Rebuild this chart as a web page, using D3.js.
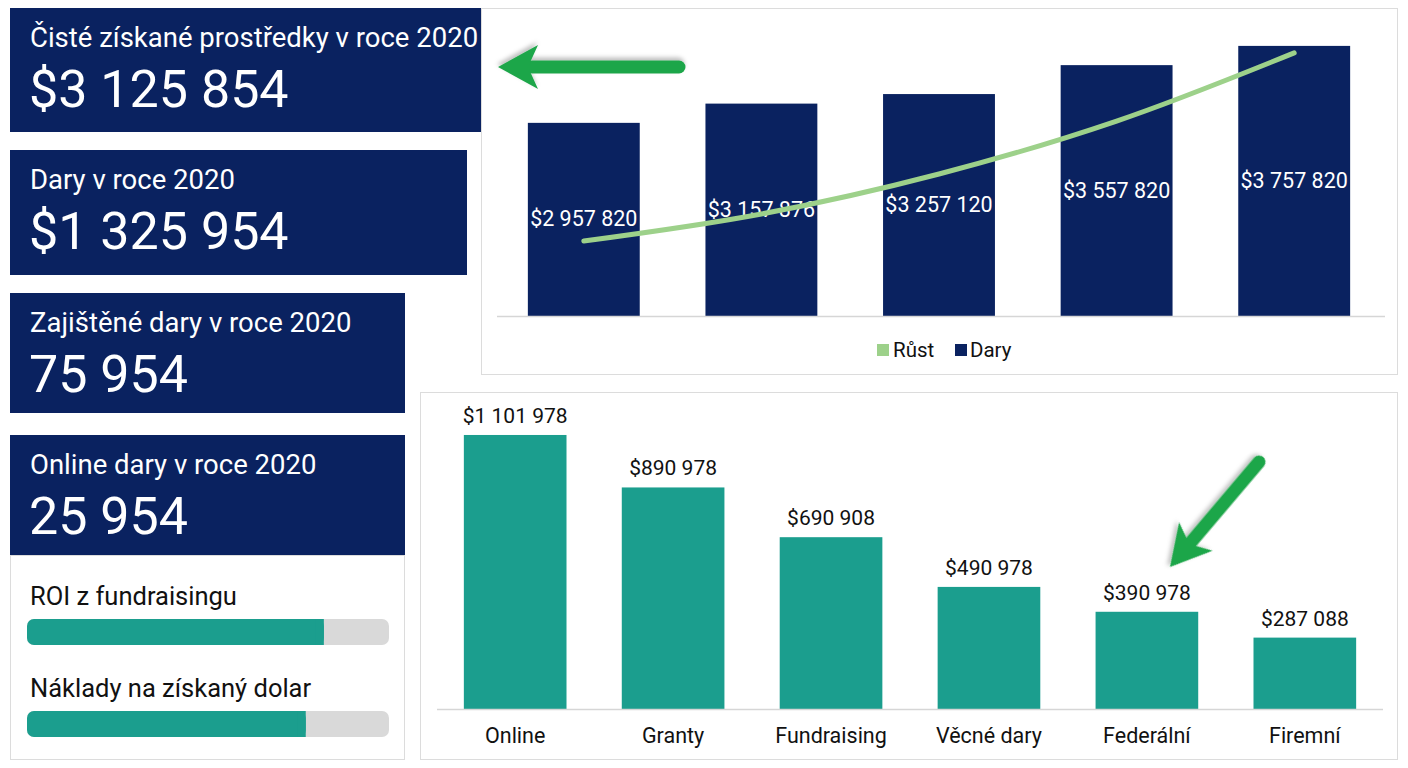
<!DOCTYPE html>
<html>
<head>
<meta charset="utf-8">
<script src="https://cdn.jsdelivr.net/npm/d3@7"></script>
<style>
  body { margin: 0; background: #fff; }
  svg { display: block; font-family: Roboto, "Noto Sans", sans-serif; }
</style>
</head>
<body>
<svg id="chart" width="1408" height="768"></svg>
<script>
// KPI cards
const kpiTitles = ['Čisté získané prostředky v roce 2020', 'Dary v roce 2020', 'Zajištěné dary v roce 2020', 'Online dary v roce 2020'];
const kpiValues = ['$3 125 854', '$1 325 954', '75 954', '25 954'];

// progress gauges
const gaugeLabels = ['ROI z fundraisingu', 'Náklady na získaný dolar'];
const gaugeValues = [0.82, 0.77];

// top chart: donations by year + growth line
const yearIdx = ['r1', 'r2', 'r3', 'r4', 'r5'];
const donations = [2957820, 3157876, 3257120, 3557820, 3757820];
const growth = [25.5, 34.7, 48.3, 66.3, 89.5];

// bottom chart: donations by channel
const channels = ['Online', 'Granty', 'Fundraising', 'Věcné dary', 'Federální', 'Firemní'];
const channelValues = [1101978, 890978, 690908, 490978, 390978, 287088];

const NAVY = '#0a2260';
const TEAL = '#1b9e8e';
const LINE_GREEN = '#9dd18a';
const ARROW_GREEN = '#1fa64a';

const svg = d3.select('#chart');
const fmt = (v) => '$' + d3.format(',')(v).replace(/,/g, ' ');

const defs = svg.append('defs');
const shadow = defs.append('filter').attr('id', 'shadow')
  .attr('x', '-20%').attr('y', '-20%').attr('width', '140%').attr('height', '160%');
shadow.append('feDropShadow')
  .attr('dx', 1).attr('dy', 3).attr('stdDeviation', 2)
  .attr('flood-color', '#000').attr('flood-opacity', 0.25);

// panels
svg.append('rect')
  .attr('x', 481.5).attr('y', 8.5).attr('width', 916).attr('height', 366)
  .attr('fill', '#fff').attr('stroke', '#dcdcdc');
svg.append('rect')
  .attr('x', 420.5).attr('y', 392.5).attr('width', 977).attr('height', 367)
  .attr('fill', '#fff').attr('stroke', '#dcdcdc');
svg.append('rect')
  .attr('x', 10.5).attr('y', 555.5).attr('width', 394).attr('height', 204)
  .attr('fill', '#fff').attr('stroke', '#dcdcdc');

// KPI cards section
const cards = [
  { x: 10, y: 8, w: 471, h: 124 },
  { x: 10, y: 150, w: 457, h: 125 },
  { x: 10, y: 293, w: 395, h: 120 },
  { x: 10, y: 435, w: 395, h: 120 }
];
const card = svg.selectAll('g.kpi')
  .data(kpiTitles)
  .enter()
  .append('g')
  .attr('class', 'kpi')
  .attr('transform', (d, i) => `translate(${cards[i].x},${cards[i].y})`);
card.append('rect')
  .attr('width', (d, i) => cards[i].w)
  .attr('height', (d, i) => cards[i].h)
  .attr('fill', NAVY);
card.append('text')
  .attr('x', 20).attr('y', 39)
  .attr('fill', '#fff')
  .style('font-size', '27.5px')
  .text((d) => d);
card.append('text')
  .attr('x', 19).attr('y', 99)
  .attr('fill', '#fff')
  .style('font-size', '52px')
  .text((d, i) => kpiValues[i]);

// gauges section
const gx = d3.scaleLinear().domain([0, 1]).range([27, 389]);
const gauge = svg.selectAll('g.gauge')
  .data(gaugeLabels)
  .enter()
  .append('g')
  .attr('class', 'gauge')
  .attr('transform', (d, i) => `translate(0,${i * 92})`);
gauge.append('text')
  .attr('x', 30).attr('y', 605)
  .attr('fill', '#111')
  .style('font-size', '25.5px')
  .text((d) => d);
gauge.append('rect')
  .attr('x', gx(0)).attr('y', 619)
  .attr('width', gx(1) - gx(0)).attr('height', 26)
  .attr('rx', 7)
  .attr('fill', '#d9d9d9');
gauge.append('rect')
  .attr('x', gx(0)).attr('y', 619)
  .attr('width', (d, i) => gx(gaugeValues[i]) - gx(0)).attr('height', 26)
  .attr('rx', 7)
  .attr('fill', TEAL);
gauge.append('rect')
  .attr('x', (d, i) => gx(gaugeValues[i]) - 8).attr('y', 619)
  .attr('width', 8).attr('height', 26)
  .attr('fill', TEAL);

// top chart section
const x1 = d3.scaleBand().domain(yearIdx).range([495, 1383]).paddingInner(0.37).paddingOuter(0.185);
const y1 = d3.scaleLinear().domain([950000, 4000000]).range([316, 22.6]);
const yg = d3.scaleLinear().domain([0, 100]).range([316, 22]);

svg.append('g')
  .selectAll('rect')
  .data(donations)
  .enter()
  .append('rect')
  .attr('x', (d, i) => x1(yearIdx[i]))
  .attr('y', (d) => y1(d))
  .attr('width', x1.bandwidth())
  .attr('height', (d) => y1.range()[0] - y1(d))
  .attr('fill', NAVY);

svg.append('line')
  .attr('x1', 497).attr('x2', 1385)
  .attr('y1', 316.5).attr('y2', 316.5)
  .attr('stroke', '#d6d6d6').attr('stroke-width', 1.5);

svg.append('g')
  .selectAll('text')
  .data(donations)
  .enter()
  .append('text')
  .attr('x', (d, i) => x1(yearIdx[i]) + x1.bandwidth() / 2)
  .attr('y', (d) => (y1(d) + y1.range()[0]) / 2 + 7)
  .attr('text-anchor', 'middle')
  .attr('fill', '#fff')
  .style('font-size', '21.5px')
  .text((d) => fmt(d));

const growthLine = d3.line()
  .x((d, i) => x1(yearIdx[i]) + x1.bandwidth() / 2)
  .y((d) => yg(d))
  .curve(d3.curveCatmullRom.alpha(0.5));
svg.append('path')
  .attr('d', growthLine(growth))
  .attr('fill', 'none')
  .attr('stroke', LINE_GREEN)
  .attr('stroke-width', 5)
  .attr('stroke-linecap', 'round');

// legend
const legend = svg.append('g').attr('transform', 'translate(877,342)');
legend.append('rect').attr('x', 0).attr('y', 2).attr('width', 12).attr('height', 12).attr('fill', LINE_GREEN);
legend.append('text').attr('x', 16).attr('y', 15).style('font-size', '20.5px').attr('fill', '#111').text('Růst');
legend.append('rect').attr('x', 78).attr('y', 2).attr('width', 12).attr('height', 12).attr('fill', NAVY);
legend.append('text').attr('x', 93).attr('y', 15).style('font-size', '20.5px').attr('fill', '#111').text('Dary');

// bottom chart section
const x2 = d3.scaleBand().domain(channels).range([437, 1383]).paddingInner(0.35).paddingOuter(0.17);
const y2 = d3.scaleLinear().domain([0, 1200000]).range([709, 410.6]);

svg.append('g')
  .selectAll('rect')
  .data(channelValues)
  .enter()
  .append('rect')
  .attr('x', (d, i) => x2(channels[i]))
  .attr('y', (d) => y2(d))
  .attr('width', x2.bandwidth())
  .attr('height', (d) => y2(0) - y2(d))
  .attr('fill', TEAL);

svg.append('line')
  .attr('x1', 437).attr('x2', 1383)
  .attr('y1', 709.5).attr('y2', 709.5)
  .attr('stroke', '#d6d6d6').attr('stroke-width', 1.5);

svg.append('g')
  .selectAll('text')
  .data(channelValues)
  .enter()
  .append('text')
  .attr('x', (d, i) => x2(channels[i]) + x2.bandwidth() / 2)
  .attr('y', (d) => y2(d) - 12)
  .attr('text-anchor', 'middle')
  .attr('fill', '#111')
  .style('font-size', '21px')
  .text((d) => fmt(d));

const xAxis = svg.append('g')
  .attr('transform', 'translate(0,709)')
  .call(d3.axisBottom(x2).tickSize(0).tickPadding(19));
xAxis.select('.domain').remove();
xAxis.selectAll('text')
  .attr('fill', '#111')
  .style('font-family', 'Roboto, sans-serif')
  .style('font-size', '21.5px');

// annotation arrows
const arrow = (x0, y0, x1a, y1a) => {
  const ang = Math.atan2(y1a - y0, x1a - x0);
  const headLen = 40, headW = 22, shaftW = 13;
  const g = svg.append('g')
    .attr('transform', `translate(${x1a},${y1a}) rotate(${ang * 180 / Math.PI})`)
    .attr('filter', 'url(#shadow)');
  const len = Math.hypot(x1a - x0, y1a - y0);
  g.append('line')
    .attr('x1', -len).attr('y1', 0)
    .attr('x2', -headLen + 6).attr('y2', 0)
    .attr('stroke', ARROW_GREEN)
    .attr('stroke-width', shaftW)
    .attr('stroke-linecap', 'round');
  g.append('path')
    .attr('d', `M0,0 L${-headLen},${-headW} L${-headLen + 10},0 L${-headLen},${headW} Z`)
    .attr('fill', ARROW_GREEN);
};
arrow(679, 67, 498, 67);
arrow(1259, 462, 1170, 567);
</script>
</body>
</html>
